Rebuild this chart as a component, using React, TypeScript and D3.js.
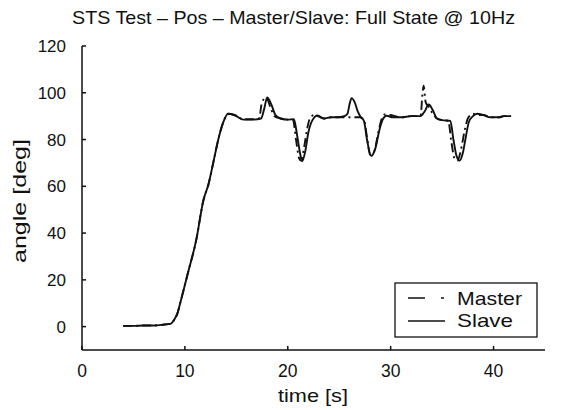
import React from "react";
import * as d3 from "d3";

const title = "STS Test – Pos – Master/Slave: Full State @ 10Hz";
const xLabel = "time [s]";
const yLabel = "angle [deg]";
const xTicks = [0, 10, 20, 30, 40];
const yTicks = [0, 20, 40, 60, 80, 100, 120];
const seriesNames = ["Master", "Slave"];

const slaveT = [4, 5, 6, 7, 8, 8.6, 8.9, 9.3, 9.6, 10.3, 11.1, 11.8, 12.3, 12.8, 13.3, 13.7, 14.2, 14.8, 15.7, 16.5, 17.4, 17.7, 18.0, 18.4, 18.8, 19.3, 20.0, 20.6, 20.9, 21.2, 21.4, 21.7, 22.0, 22.4, 22.9, 23.5, 24.2, 24.8, 25.5, 25.8, 26.0, 26.2, 26.5, 26.8, 27.1, 27.4, 27.7, 28.1, 28.5, 28.9, 29.2, 29.6, 30.2, 31.0, 32.0, 32.9, 33.3, 33.7, 34.1, 34.5, 35.0, 35.8, 36.1, 36.4, 36.7, 37.0, 37.3, 37.6, 38.0, 38.4, 39.0, 39.7, 40.5, 41.0, 41.7];
const slaveV = [0.3, 0.3, 0.5, 0.5, 0.9, 1.2, 2.5, 6, 11, 23, 37, 54, 61, 71, 81, 87, 91, 90.5, 88.5, 88.5, 89, 93, 98, 95, 90.5, 89, 88.5, 88.7, 82, 74, 70.7, 75, 83, 88.3, 90.3, 89, 89.5, 89.5, 90, 91, 95, 97.7, 96, 92, 89.5, 88, 80, 73, 76, 84, 88.3, 90.2, 89.5, 89.5, 90, 90, 92, 95, 92.5, 89, 88.3, 88, 80, 73, 71, 74, 81, 87.5, 90, 91, 90.5, 89.5, 89.5, 90, 90];

const masterT = [4, 5, 6, 7, 8, 8.6, 8.9, 9.3, 9.6, 10.3, 11.1, 11.8, 12.3, 12.8, 13.3, 13.7, 14.2, 14.8, 15.7, 16.5, 17.2, 17.5, 17.9, 18.3, 18.7, 19.3, 20.0, 20.5, 20.8, 21.1, 21.3, 21.6, 21.9, 22.2, 22.6, 23.5, 24.2, 24.8, 25.5, 26.2, 27.0, 27.4, 27.7, 28.0, 28.4, 28.8, 29.1, 29.4, 30.0, 31.0, 32.0, 32.9, 33.1, 33.2, 33.4, 33.7, 34.1, 34.5, 35.0, 35.6, 35.9, 36.2, 36.5, 36.8, 37.2, 37.5, 38.0, 38.4, 39.0, 39.7, 40.5, 41.0, 41.7];
const masterV = [0.3, 0.3, 0.5, 0.5, 0.9, 1.2, 2.5, 6, 11, 23, 37, 54, 61, 71, 81, 87, 91, 90.5, 88.7, 88.7, 89, 96, 98, 94, 90, 89, 88.5, 88.5, 80, 72, 71, 77, 85, 89.5, 90.5, 89, 89.5, 89.5, 89.5, 89.5, 89.5, 88.5, 81, 73.5, 75, 83, 88.5, 90.7, 90.5, 89.5, 90, 90, 100, 103, 96, 94, 91, 89, 88.3, 88, 79, 72, 71, 75, 84, 89, 91, 90.5, 90.5, 89.5, 89.5, 90, 90];

const W = 570;
const H = 410;
const left = 82;
const right = 545;
const top = 46;
const bottom = 350;
const font = "'Liberation Sans', Arial, Helvetica, sans-serif";

export default function App() {
  const x = d3.scaleLinear().domain([0, 45]).range([left, right]);
  const y = d3.scaleLinear().domain([-10, 120]).range([bottom, top]);
  const line = d3
    .line<[number, number]>()
    .x((d) => x(d[0]))
    .y((d) => y(d[1]))
    .curve(d3.curveMonotoneX);
  const slave: [number, number][] = slaveT.map((t, i) => [t, slaveV[i]]);
  const master: [number, number][] = masterT.map((t, i) => [t, masterV[i]]);

  const lx = 395, ly = 283, lw = 142, lh = 54;

  return (
    <svg width={W} height={H} style={{ position: "absolute", left: 0, top: 0, background: "#fff" }} fontFamily={font}>
      <rect x={0} y={0} width={W} height={H} fill="#fff" />
      <text x={72} y={24} fontSize={18.5} textLength={443} lengthAdjust="spacingAndGlyphs" fill="#111">{title}</text>

      {/* axes */}
      <line x1={left} y1={top} x2={left} y2={bottom} stroke="#111" strokeWidth={1.5} />
      <line x1={left} y1={bottom} x2={right} y2={bottom} stroke="#111" strokeWidth={1.5} />
      {yTicks.map((t) => (
        <g key={"y" + t}>
          <line x1={left} x2={left + 4} y1={y(t)} y2={y(t)} stroke="#111" strokeWidth={1.5} />
          <text x={66} y={y(t) + 6} fontSize={17} textAnchor="end" fill="#111">{t}</text>
        </g>
      ))}
      {xTicks.map((t) => (
        <g key={"x" + t}>
          <line x1={x(t)} x2={x(t)} y1={bottom} y2={bottom - 4} stroke="#111" strokeWidth={1.5} />
          <text x={x(t)} y={377} fontSize={17.5} textAnchor="middle" fill="#111">{t}</text>
        </g>
      ))}
      <text x={278} y={402} fontSize={19} textLength={70} lengthAdjust="spacingAndGlyphs" fill="#111">{xLabel}</text>
      <text transform={`translate(26,263) rotate(-90)`} fontSize={19} textLength={124} lengthAdjust="spacingAndGlyphs" fill="#111">{yLabel}</text>

      {/* series */}
      <path d={line(slave) || ""} fill="none" stroke="#111" strokeWidth={1.9} />
      <path d={line(master) || ""} fill="none" stroke="#111" strokeWidth={1.9} strokeDasharray="9,4,2,4" />

      {/* legend */}
      <rect x={lx} y={ly} width={lw} height={lh} fill="#fff" stroke="#111" strokeWidth={1.3} />
      <line x1={408} x2={445} y1={298} y2={298} stroke="#111" strokeWidth={1.5} strokeDasharray="17,16,3,10" />
      <text x={457} y={305} fontSize={19} textLength={65} lengthAdjust="spacingAndGlyphs" fill="#111">{seriesNames[0]}</text>
      <line x1={408} x2={445} y1={321} y2={321} stroke="#111" strokeWidth={1.5} />
      <text x={457} y={327} fontSize={19} textLength={56} lengthAdjust="spacingAndGlyphs" fill="#111">{seriesNames[1]}</text>
    </svg>
  );
}
